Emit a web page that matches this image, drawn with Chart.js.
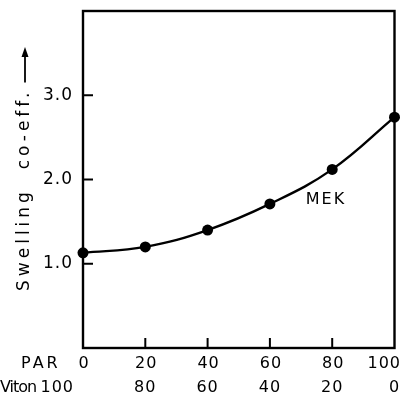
<!DOCTYPE html>
<html>
<head>
<meta charset="utf-8">
<script src="https://cdn.jsdelivr.net/npm/chart.js@4"></script>
<style>
  html, body { margin: 0; padding: 0; background: #fff; }
  #wrap { width: 400px; height: 395px; }
</style>
</head>
<body>
<div id="wrap"><canvas id="chart"></canvas></div>
<script>
// composition (PAR / Viton) and swelling coefficient
const parValues = [0, 20, 40, 60, 80, 100];
const vitonValues = [100, 80, 60, 40, 20, 0];
const swelling = [1.13, 1.20, 1.40, 1.71, 2.12, 2.74];
const yTicks = [1, 2, 3];
const xInnerTicks = [20, 40, 60, 80];
const seriesName = 'MEK';
const yTitle = 'Swelling  co-eff.';

const FONT = '17px "DejaVu Sans", sans-serif';
const XFONT = '16px "DejaVu Sans", sans-serif';

// draws the frame, inward ticks, labels and titles like the printed figure
const paperAxes = {
    id: 'paperAxes',
    afterDraw(chart) {
        const { ctx, chartArea: a, scales: { x, y } } = chart;
        ctx.save();
        ctx.strokeStyle = '#000';
        ctx.fillStyle = '#000';
        ctx.lineWidth = 2.4;
        ctx.strokeRect(a.left, a.top, a.right - a.left, a.bottom - a.top);

        // inward tick marks
        ctx.lineWidth = 2;
        yTicks.forEach(v => {
            const py = y.getPixelForValue(v);
            ctx.beginPath(); ctx.moveTo(a.left, py); ctx.lineTo(a.left + 10, py); ctx.stroke();
        });
        xInnerTicks.forEach(v => {
            const px = x.getPixelForValue(v);
            ctx.beginPath(); ctx.moveTo(px, a.bottom); ctx.lineTo(px, a.bottom - 10); ctx.stroke();
        });

        ctx.font = FONT;
        ctx.textBaseline = 'middle';

        // y tick labels
        ctx.letterSpacing = '1px';
        ctx.textAlign = 'right';
        yTicks.forEach(v => {
            ctx.fillText(v.toFixed(1), a.left - 10, y.getPixelForValue(v));
        });

        // two rows of x labels
        ctx.font = XFONT;
        const row1 = a.bottom + 16, row2 = a.bottom + 40;
        ctx.textAlign = 'left';
        ctx.letterSpacing = '3px';
        ctx.fillText('PAR', 21, row1);
        ctx.letterSpacing = '-1px';
        ctx.fillText('Viton', 0, row2);
        ctx.letterSpacing = '1px';
        ctx.textAlign = 'center';
        parValues.forEach((v, i) => {
            const px = x.getPixelForValue(v);
            const w = ctx.measureText(String(v)).width;
            ctx.fillText(String(v), Math.min(px + 1, chart.width - w / 2 + 1), row1);
            const t = String(vitonValues[i]);
            const tw = ctx.measureText(t).width;
            let cx = Math.min(px, chart.width - tw / 2 + 1);
            if (i === 0) cx = px - 9 - tw / 2;
            ctx.fillText(t, cx, row2);
        });

        // series label
        ctx.letterSpacing = '2px';
        ctx.fillText(seriesName, x.getPixelForValue(78), y.getPixelForValue(1.76));

        // rotated y title with arrow
        ctx.font = FONT;
        ctx.translate(25, 291);
        ctx.rotate(-Math.PI / 2);
        ctx.textAlign = 'left';
        ctx.letterSpacing = '4px';
        ctx.fillText(yTitle, 0, 0);
        const tw = ctx.measureText(yTitle).width;
        const ax0 = tw + 6, ax1 = 244;
        ctx.lineWidth = 1.8;
        ctx.beginPath(); ctx.moveTo(ax0, 0); ctx.lineTo(ax1 - 6, 0); ctx.stroke();
        ctx.beginPath();
        ctx.moveTo(ax1, 0); ctx.lineTo(ax1 - 10, -3.5); ctx.lineTo(ax1 - 10, 3.5);
        ctx.closePath(); ctx.fill();
        ctx.restore();
    }
};

new Chart(document.getElementById('chart'), {
    type: 'line',
    data: {
        datasets: [{
            label: seriesName,
            data: parValues.map((v, i) => ({ x: v, y: swelling[i] })),
            borderColor: '#000',
            backgroundColor: '#000',
            borderWidth: 2.4,
            pointRadius: 5.5,
            pointBackgroundColor: '#000',
            pointBorderWidth: 0,
            tension: 0.4,
            clip: false
        }]
    },
    options: {
        responsive: true,
        maintainAspectRatio: false,
        animation: false,
        layout: { padding: { left: 83, top: 11, right: 4, bottom: 47 } },
        plugins: { legend: { display: false }, tooltip: { enabled: false } },
        scales: {
            x: { type: 'linear', min: 0, max: 100, display: false },
            y: { min: 0, max: 4, display: false }
        }
    },
    plugins: [paperAxes]
});
</script>
</body>
</html>
